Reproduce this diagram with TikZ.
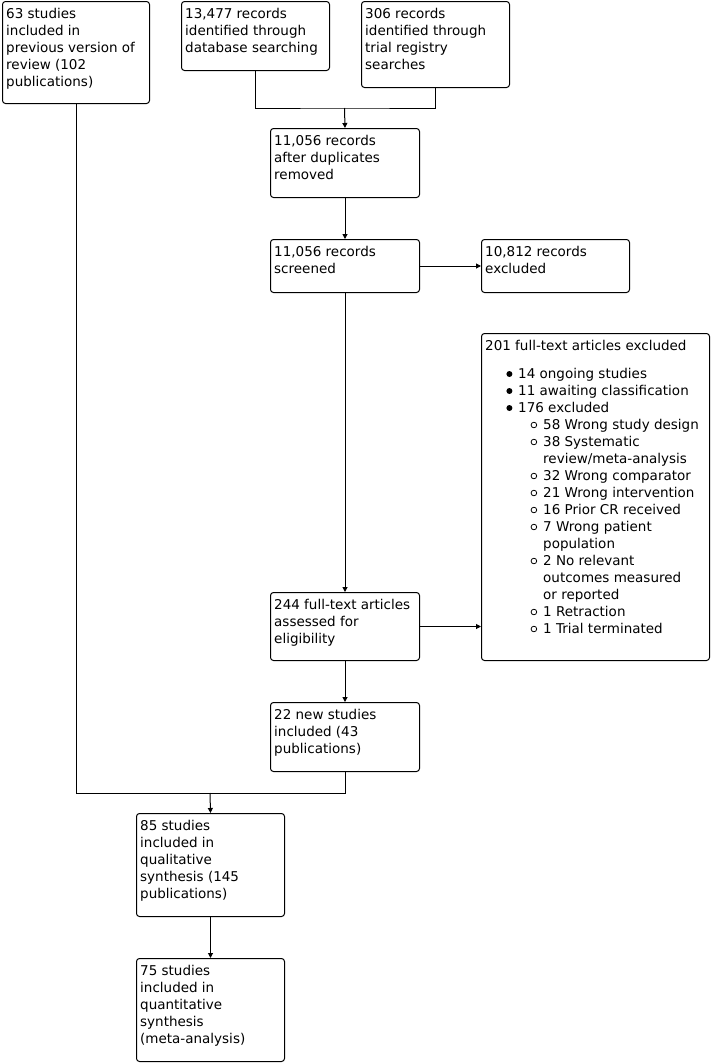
\documentclass[tikz,border=0pt]{standalone}
\usepackage{fontspec}
\setmainfont{DejaVu Sans}
\usetikzlibrary{arrows.meta}
\begin{document}
\begin{tikzpicture}[x=1pt,y=-1pt,
  box/.style={draw,line width=1pt,rounded corners=3pt,inner sep=0pt,anchor=north west},
  txt/.style={inner sep=0pt,align=left,anchor=north west,font=\fontsize{13.5}{17}\selectfont},
  ltxt/.style={inner sep=0pt,anchor=base west,font=\fontsize{13.5}{17}\selectfont},
  arr/.style={line width=1pt,-{Triangle[length=5pt,width=5pt]}},
  ln/.style={line width=1pt}]
\useasboundingbox (0,0) rectangle (711,1063);
% boxes
\node[box,minimum width=147pt,minimum height=102pt] (A) at (2,1) {};
\node[box,minimum width=148pt,minimum height=69pt] (B) at (181,1) {};
\node[box,minimum width=148pt,minimum height=86pt] (C) at (361,1) {};
\node[box,minimum width=149pt,minimum height=69pt] (D) at (270,128) {};
\node[box,minimum width=149pt,minimum height=53pt] (E) at (270,239) {};
\node[box,minimum width=148pt,minimum height=53pt] (F) at (481,239) {};
\node[box,minimum width=228pt,minimum height=327pt] (G) at (481,333) {};
\node[box,minimum width=149pt,minimum height=68pt] (H) at (270,592) {};
\node[box,minimum width=149pt,minimum height=69pt] (I) at (270,702) {};
\node[box,minimum width=148pt,minimum height=103pt] (J) at (136,813) {};
\node[box,minimum width=148pt,minimum height=103pt] (K) at (136,958) {};
% texts
\node[txt] (tA) at ([shift={(4,7.3)}]A.north west) {63 studies\\included in\\previous version of\\review (102\\publications)};
\node[txt] (tB) at ([shift={(4,7.3)}]B.north west) {13,477 records\\identified through\\database searching};
\node[txt] (tC) at ([shift={(4,7.3)}]C.north west) {306 records\\identified through\\trial registry\\searches};
\node[txt] (tD) at ([shift={(4,7.3)}]D.north west) {11,056 records\\after duplicates\\removed};
\node[txt] (tE) at ([shift={(4,7.3)}]E.north west) {11,056 records\\screened};
\node[txt] (tF) at ([shift={(4,7.3)}]F.north west) {10,812 records\\excluded};
\node[txt] (tH) at ([shift={(4,7.3)}]H.north west) {244 full-text articles\\assessed for\\eligibility};
\node[txt] (tI) at ([shift={(4,7.3)}]I.north west) {22 new studies\\included (43\\publications)};
\node[txt] (tJ) at ([shift={(4,7.3)}]J.north west) {85 studies\\included in\\qualitative\\synthesis (145\\publications)};
\node[txt] (tK) at ([shift={(4,7.3)}]K.north west) {75 studies\\included in\\quantitative\\synthesis\\(meta-analysis)};
% excluded list
\node[ltxt] (g0) at (485,350.5) {201 full-text articles excluded};
\node[ltxt] (g1) at (518,378.3) {14 ongoing studies};
\node[ltxt] (g2) at (518,395.3) {11 awaiting classification};
\node[ltxt] (g3) at (518,412.3) {176 excluded};
\node[ltxt] (g4) at (543,429.3) {58 Wrong study design};
\node[ltxt] (g5) at (543,446.3) {38 Systematic};
\node[ltxt] (g6) at (543,463.3) {review/meta-analysis};
\node[ltxt] (g7) at (543,480.3) {32 Wrong comparator};
\node[ltxt] (g8) at (543,497.3) {21 Wrong intervention};
\node[ltxt] (g9) at (543,514.3) {16 Prior CR received};
\node[ltxt] (g10) at (543,531.3) {7 Wrong patient};
\node[ltxt] (g11) at (543,548.3) {population};
\node[ltxt] (g12) at (543,565.3) {2 No relevant};
\node[ltxt] (g13) at (543,582.3) {outcomes measured};
\node[ltxt] (g14) at (543,599.3) {or reported};
\node[ltxt] (g15) at (543,616.3) {1 Retraction};
\node[ltxt] (g16) at (543,633.3) {1 Trial terminated};
% bullets
\foreach \b in {378.3,395.3,412.3} \fill (509.4,\b-4.3) circle (3);
\foreach \b in {429.3,446.3,480.3,497.3,514.3,531.3,565.3,616.3,633.3}
  \draw[line width=0.8pt] (533.9,\b-4.3) circle (2.8);
% connectors
\coordinate (j1) at (344.5,108);
\coordinate (j2) at (210,793);
\draw[ln] (B.south) |- (j1) -| (C.south);
\draw[arr] (j1) -- (D.north);
\draw[arr] (D.south) -- (E.north);
\draw[arr] (E.east) -- (F.west);
\draw[arr] (E.south) -- (H.north);
\draw[arr] (H.east) -- (H.east -| G.west);
\draw[arr] (H.south) -- (I.north);
\draw[ln] (A.south) |- (j2) -| (I.south);
\draw[arr] (j2) -- (J.north);
\draw[arr] (J.south) -- (K.north);
\end{tikzpicture}
\end{document}
